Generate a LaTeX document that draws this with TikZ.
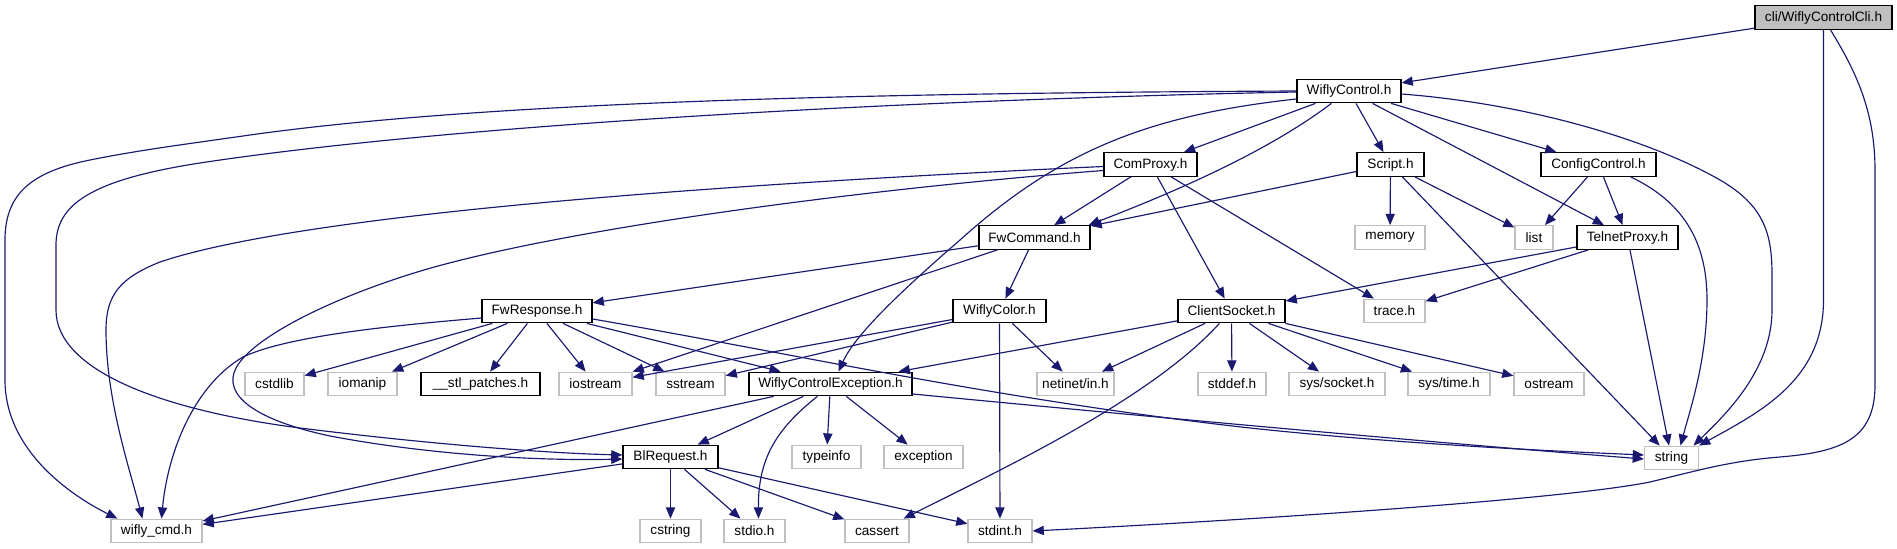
\documentclass[tikz,border=0pt]{standalone}
\usepackage{fontspec}
\setmainfont{Liberation Sans}
\usetikzlibrary{positioning,calc,arrows.meta}
\definecolor{edgeblue}{HTML}{191970}
\definecolor{sysgray} {HTML}{BFBFBF}
\definecolor{rootgray}{HTML}{BFBFBF}
\tikzset{
  >=stealth,
  every node/.style={font=\fontsize{6.8}{8}\selectfont},
  % --- nodes
  hdr/.style  = {draw=black, fill=white, line width=0.6pt, inner sep=0pt,
                 minimum height=11.8pt},
  sys/.style  = {hdr, draw=sysgray},
  root/.style = {hdr, fill=rootgray},
  % --- edges
  dep/.style  = {-{Triangle[length=5.6pt,width=4.6pt]}, draw=edgeblue, line width=0.58pt},
}
\begin{document}
\begin{tikzpicture}[x=0.5pt, y=-0.5pt]
  \useasboundingbox (0,0) rectangle (1897,549);

  % --- top of the include tree
  \node[root, minimum width=68.5pt] (cli)  at (1823.5,17.5) {cli/WiflyControlCli.h};
  \node[hdr, minimum width=52pt]    (wc)   at (1349,91)     {WiflyControl.h};
  \node[hdr, minimum width=46.5pt]  (cp)   at (1150.5,164.5) {ComProxy.h};
  \node[hdr, minimum width=33.5pt]  (scr)  at (1390.5,164.5) {Script.h};
  \node[hdr, minimum width=57.5pt]  (cc)   at (1598.5,164.5) {ConfigControl.h};
  \node[hdr, minimum width=55.5pt]  (fwc)  at (1034.5,237.5) {FwCommand.h};
  \node[sys, minimum width=35pt]    (mem)  at (1390,237.5)   {memory};
  \node[sys, minimum width=19pt]    (lst)  at (1534,237.5)   {list};
  \node[hdr, minimum width=50.5pt]  (tp)   at (1627.5,237.5) {TelnetProxy.h};
  \node[hdr, minimum width=55pt]    (fwr)  at (537,311)      {FwResponse.h};
  \node[hdr, minimum width=46.5pt]  (wcol) at (999.5,311)    {WiflyColor.h};
  \node[hdr, minimum width=53.5pt]  (cs)   at (1231.5,311)   {ClientSocket.h};
  \node[sys, minimum width=30.5pt]  (trc)  at (1394.5,311)   {trace.h};

  % --- lower rows
  \node[sys, minimum width=29.5pt] (cstdlib) at (274.5,384) {cstdlib};
  \node[sys, minimum width=34.5pt] (iomanip) at (362.5,384) {iomanip};
  \node[hdr, minimum width=59.5pt] (stl)     at (480.5,384) {\_\_stl\_patches.h};
  \node[sys, minimum width=36.5pt] (iostr)   at (595.5,384) {iostream};
  \node[sys, minimum width=34.5pt] (sstr)    at (690.5,384) {sstream};
  \node[hdr, minimum width=81.5pt] (wce)     at (830.5,384) {WiflyControlException.h};
  \node[sys, minimum width=38.5pt] (netin)   at (1075.5,384) {netinet/in.h};
  \node[sys, minimum width=34pt]   (stddef)  at (1232,384)  {stddef.h};
  \node[sys, minimum width=48pt]   (syssock) at (1337,384)  {sys/socket.h};
  \node[sys, minimum width=41pt]   (systime) at (1449,384)  {sys/time.h};
  \node[sys, minimum width=35pt]   (ostr)    at (1549,384)  {ostream};
  \node[hdr, minimum width=47.5pt] (blr)     at (670.5,457) {BlRequest.h};
  \node[sys, minimum width=34.5pt] (tinfo)   at (826.5,457) {typeinfo};
  \node[sys, minimum width=39.5pt] (excp)    at (923.5,457) {exception};
  \node[sys, minimum width=27pt]   (str)     at (1671.5,458) {string};
  \node[sys, minimum width=45.5pt] (wcmd)    at (156.5,531) {wifly\_cmd.h};
  \node[sys, minimum width=30.5pt] (cstring) at (670.5,531) {cstring};
  \node[sys, minimum width=30.5pt] (stdio)   at (754.5,531) {stdio.h};
  \node[sys, minimum width=32pt]   (cassert) at (877,531)   {cassert};
  \node[sys, minimum width=32pt]   (stdint)  at (1000,531)  {stdint.h};

  % --- straight includes
  \foreach \a/\b in {cli/wc, wc/cp, wc/scr, wc/tp, wc/cc, cp/fwc, cp/cs, cp/trc,
                     scr/fwc, scr/mem, scr/lst, scr/str, cc/lst, cc/tp,
                     tp/cs, tp/trc, tp/str, fwc/fwr, fwc/wcol, fwc/iostr,
                     fwr/cstdlib, fwr/iomanip, fwr/stl, fwr/iostr, fwr/sstr, fwr/wce,
                     wcol/netin, wcol/stdint, wcol/iostr, wcol/sstr,
                     cs/wce, cs/netin, cs/stddef, cs/syssock, cs/systime, cs/ostr,
                     wce/blr, wce/tinfo, wce/excp, wce/wcmd,
                     blr/cstring, blr/stdio, blr/cassert, blr/stdint, blr/wcmd}
    \draw[dep] (\a) -- (\b);

  % --- routed includes
  \draw[dep] (cli.south) -- (1823.5,300) .. controls (1823.5,380) and (1760,412) .. (str.north east);
  \draw[dep] ($(cli.south)+(7,0)$) .. controls (1855,70) and (1875,110) .. (1875,170)
        -- (1875,385) .. controls (1875,440) and (1840,452) .. (1780,457)
        .. controls (1730,461) and (1700,470) .. (1650,482)
        .. controls (1560,500) and (1250,520) .. (stdint.east);
  \draw[dep] (wc.west) .. controls (900,93) and (500,100) .. (250,135)
        .. controls (180,145) and (140,150) .. (90,160)
        .. controls (30,172) and (5,195) .. (5,240) -- (5,380)
        .. controls (5,450) and (70,495) .. ($(wcmd.north west)+(7,0)$);
  \draw[dep] ($(wc.west)+(0,1)$) .. controls (900,100) and (450,125) .. (200,163)
        .. controls (90,180) and (56,205) .. (56,245) -- (56,310)
        .. controls (56,370) and (160,410) .. (300,428)
        .. controls (420,443) and (540,453) .. ($(blr.west)+(0,-2)$);
  \draw[dep] ($(wc.west)+(0,8)$) .. controls (1150,115) and (1060,150) .. (960,240)
        .. controls (900,292) and (855,335) .. ($(wce.north)+(8,0)$);
  \draw[dep] ($(wc.south west)+(35,0)$) .. controls (1270,150) and (1180,190) .. ($(fwc.north east)+(-2,0)$);
  \draw[dep] ($(wc.east)+(0,3)$) .. controls (1530,104) and (1650,140) .. (1720,180)
        .. controls (1765,206) and (1772,235) .. (1772,275) -- (1772,310)
        .. controls (1772,370) and (1725,415) .. ($(str.north)+(22,0)$);
  \draw[dep] ($(cc.south east)+(-26,0)$) .. controls (1690,205) and (1707,250) .. (1707,300)
        .. controls (1707,360) and (1690,410) .. ($(str.north)+(9,0)$);
  \draw[dep] ($(cp.west)+(0,2)$) .. controls (700,185) and (300,215) .. (160,262)
        .. controls (120,278) and (106,295) .. (106,330)
        .. controls (106,400) and (130,470) .. ($(wcmd.north west)+(32,0)$);
  \draw[dep] ($(cp.west)+(0,6)$) .. controls (850,190) and (560,230) .. (424,270)
        .. controls (330,298) and (252,338) .. (236,368)
        .. controls (222,395) and (255,420) .. (330,436)
        .. controls (430,455) and (540,461) .. ($(blr.west)+(0,2)$);
  \draw[dep] ($(fwr.west)+(0,7)$) .. controls (400,325) and (290,335) .. (243,357)
        .. controls (195,385) and (168,450) .. ($(wcmd.north)+(5,0)$);
  \draw[dep] ($(fwr.east)+(0,8)$) .. controls (800,355) and (1000,400) .. (1250,428)
        .. controls (1400,444) and (1550,451) .. ($(str.west)+(0,-3)$);
  \draw[dep] ($(wce.east)+(0,10)$) .. controls (1100,412) and (1400,440) .. ($(str.west)+(0,1)$);
  \draw[dep] ($(wce.south west)+(69,0)$) .. controls (775,430) and (758,460) .. ($(stdio.north)+(4,0)$);
  \draw[dep] ($(cs.south west)+(42,0)$) .. controls (1150,400) and (1000,470) .. ($(cassert.north east)+(-6,0)$);
\end{tikzpicture}
\end{document}
